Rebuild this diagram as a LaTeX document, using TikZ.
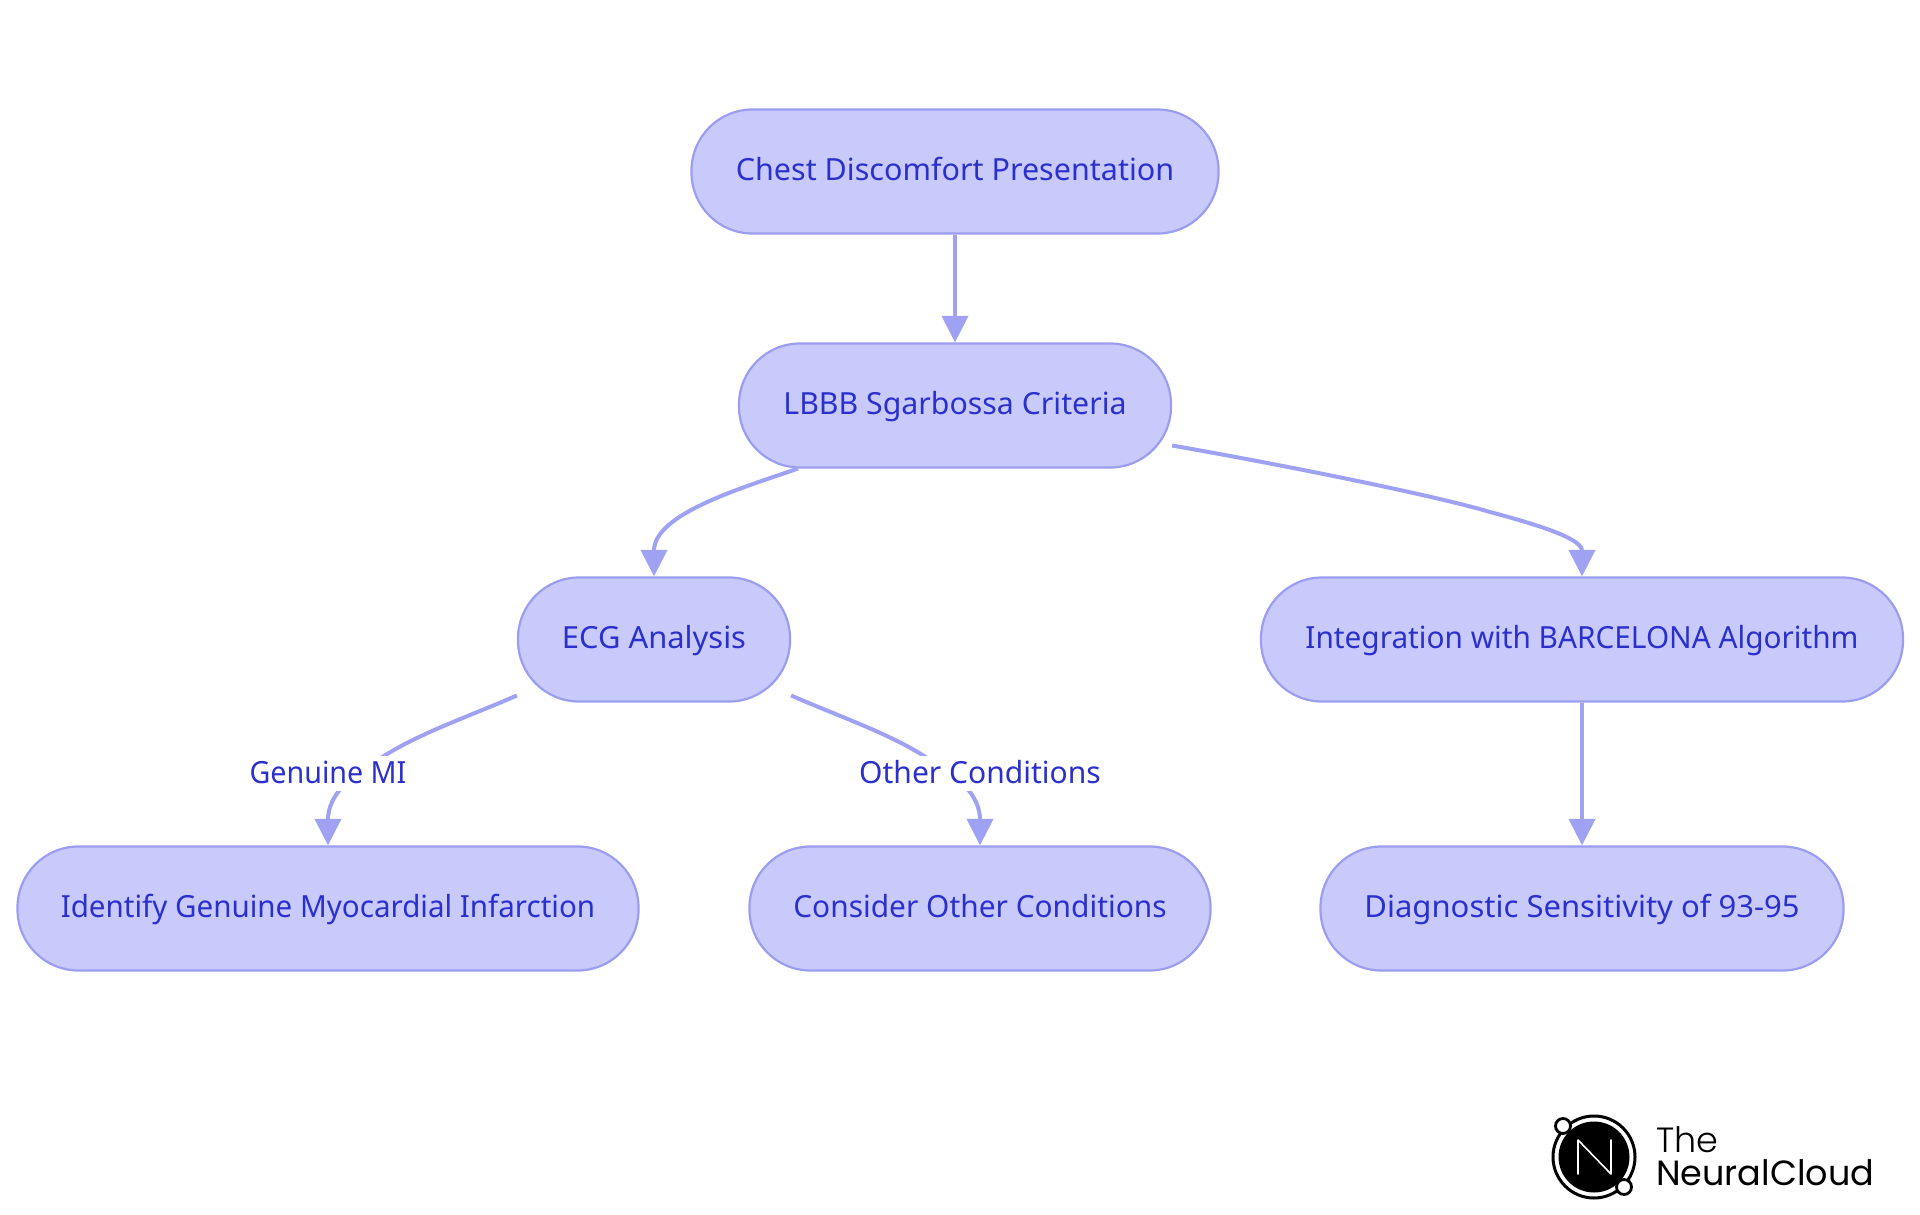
\documentclass[tikz,border=0pt]{standalone}
\usepackage{fontspec}
\usetikzlibrary{arrows.meta}
\setmainfont{Noto Sans}
\newfontfamily\logofont{Poppins Light}
\newfontfamily\logofontb{Poppins}
\definecolor{nodefill}{HTML}{C8CAFC}
\definecolor{nodeline}{HTML}{9A9DF0}
\definecolor{edgeline}{HTML}{9FA2F3}
\definecolor{nodetext}{HTML}{2B30CC}
\tikzset{
  flownode/.style={draw=nodeline,fill=nodefill,line width=2.2pt,rounded corners=61pt,
    minimum height=124pt,inner sep=0pt,text=nodetext,text height=20pt,text depth=2pt,
    font=\fontsize{30.5}{32}\selectfont},
  edgelabel/.style={fill=white,inner sep=0pt,text=nodetext,text height=27pt,text depth=8pt,
    font=\fontsize{30.5}{32}\selectfont},
  flowedge/.style={draw=edgeline,line width=4pt,-{Triangle[length=26.5pt,width=26pt]}},
}
\begin{document}
\begin{tikzpicture}[x=1pt,y=-1pt]
\useasboundingbox (0,0) rectangle (1920,1215);
\node[flownode,minimum width=527pt] (a) at (955,171.5) {Chest Discomfort Presentation};
\node[flownode,minimum width=432pt] (b) at (955,405.5) {\addfontfeature{FakeStretch=0.993}LBBB Sgarbossa Criteria};
\node[flownode,minimum width=272pt] (c) at (654,639.5) {\addfontfeature{FakeStretch=1.013}ECG Analysis};
\node[flownode,minimum width=642pt] (d) at (1582,639.5) {\addfontfeature{FakeStretch=0.976}Integration with BARCELONA Algorithm};
\node[flownode,minimum width=621pt] (e) at (328,908.5) {\addfontfeature{FakeStretch=0.969}Identify Genuine Myocardial Infarction};
\node[flownode,minimum width=461pt] (f) at (980,908.5) {\addfontfeature{FakeStretch=0.98}Consider Other Conditions};
\node[flownode,minimum width=523pt] (g) at (1582,908.5) {\addfontfeature{FakeStretch=1.017}Diagnostic Sensitivity of 93-95};
\draw[flowedge] (a.south) -- (b.north);
\draw[flowedge] ([xshift=-157pt]b.south) .. controls (735,490) and (654,515) .. (c.north);
\draw[flowedge] ([yshift=-40pt]b.east) .. controls (1300,468) and (1440,497) .. (1490,512)
   .. controls (1550,528) and (1582,540) .. (d.north);
\draw[flowedge] (d.south) -- (g.north);
\draw[flowedge] ([yshift=-56pt]c.west) .. controls (470,716) and (420,733) .. (384,756)
   .. controls (350,775) and (328,795) .. (e.north);
\draw[flowedge] ([yshift=-56pt]c.east) .. controls (838,716) and (888,733) .. (924,756)
   .. controls (958,775) and (980,795) .. (f.north);
\node[edgelabel] (l1) at (328,773.5) {\addfontfeature{FakeStretch=0.94}Genuine MI};
\node[edgelabel] (l2) at (980,773.5) {\addfontfeature{FakeStretch=0.985}Other Conditions};
% logo
\node[circle,draw=black,line width=3pt,fill=white,minimum size=82pt,inner sep=0pt] (ring) at (1594,1157) {};
\node[circle,fill=black,minimum size=71pt,inner sep=0pt] (disc) at (1594,1157) {};
\node[circle,draw=black,line width=2.8pt,fill=white,minimum size=15pt,inner sep=0pt] (dot1) at (1563,1126) {};
\node[circle,draw=black,line width=2.8pt,fill=white,minimum size=15pt,inner sep=0pt] (dot2) at (1624,1187) {};
\draw[white,line width=1.6pt,line cap=round,line join=round] (1578,1174) -- (1578,1140) -- (1611,1174) -- (1611,1140);
\node[anchor=base west,inner sep=0pt,font=\logofont\fontsize{35}{37}\selectfont,text=black] (t1) at (1656,1152) {The};
\node[anchor=base west,inner sep=0pt,font=\logofontb\fontsize{35}{37}\selectfont,text=black] (t2) at (1656,1185) {NeuralCloud};
\end{tikzpicture}
\end{document}
